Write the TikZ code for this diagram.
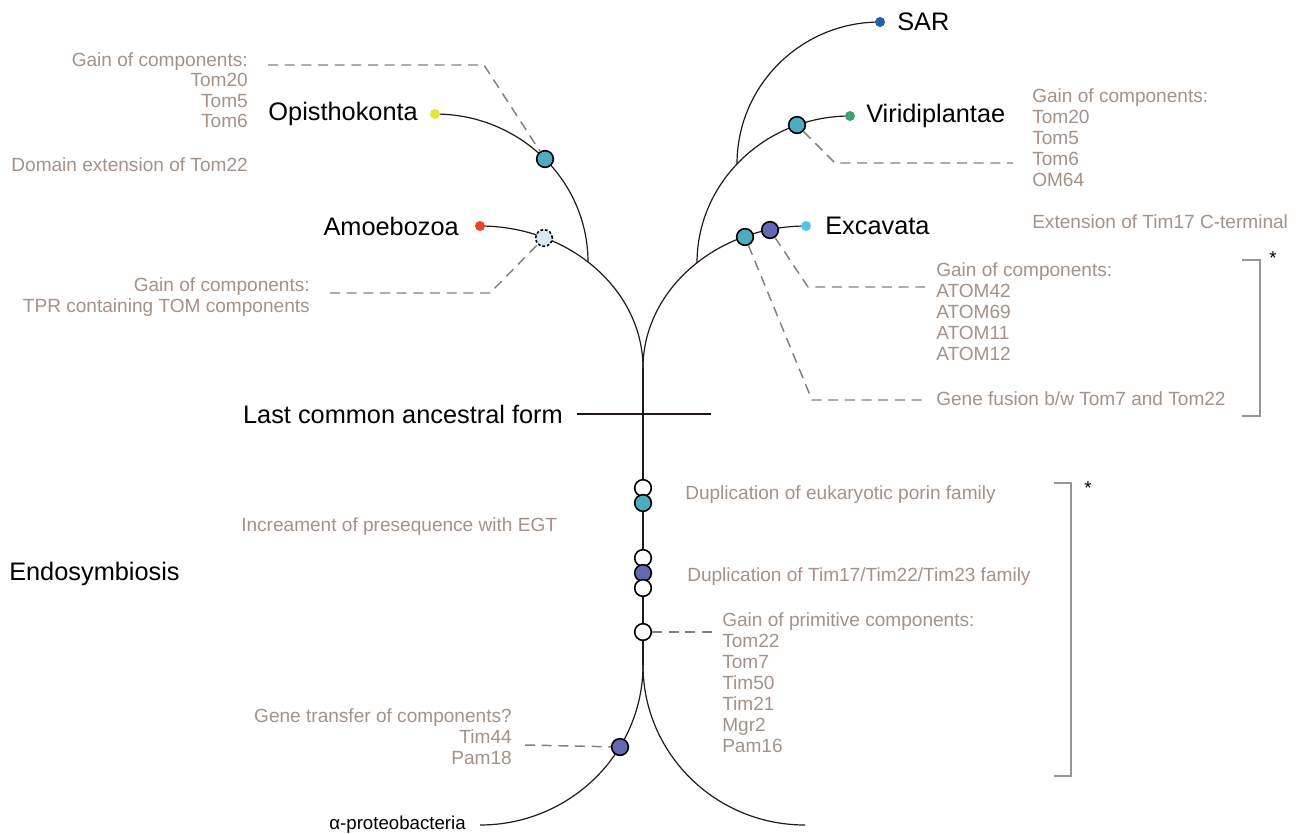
\documentclass[tikz,border=0pt]{standalone}
\usepackage{fontspec}
\setmainfont{Liberation Sans}
\usetikzlibrary{positioning}
\definecolor{notecol}{RGB}{163,146,136}
\definecolor{dashcol}{RGB}{128,128,128}
\definecolor{bracketcol}{RGB}{150,150,150}
\definecolor{linecol}{RGB}{35,25,22}
\definecolor{tealdot}{RGB}{78,172,190}
\definecolor{purpdot}{RGB}{100,104,176}
\definecolor{palecol}{RGB}{214,234,240}
\definecolor{yelldot}{RGB}{228,226,60}
\definecolor{reddot}{RGB}{236,64,42}
\definecolor{bluedot}{RGB}{38,92,172}
\definecolor{greendot}{RGB}{62,160,112}
\definecolor{skydot}{RGB}{84,192,236}

\begin{document}
\begin{tikzpicture}[x=0.75pt,y=0.75pt,yscale=-1,
    branch/.style={draw=linecol,line width=0.9pt},
    trunk/.style={draw=linecol,line width=2.2pt},
    tip/.style={circle,inner sep=0pt,minimum size=7.5pt},
    event/.style={circle,draw=black,line width=1.2pt,inner sep=0pt,minimum size=12.5pt},
    leader/.style={draw=dashcol,line width=1.1pt,dash pattern=on 7.5pt off 5pt},
    bracket/.style={draw=bracketcol,line width=1.1pt},
    note/.style={text=notecol,inner sep=0pt,font=\fontsize{14.3}{15.75}\selectfont},
    taxon/.style={inner sep=0pt,font=\fontsize{19}{22}\selectfont}]
        \useasboundingbox (0,0) rectangle (1300,833);

        % tree points
        \coordinate (split) at (643,368);
        \coordinate (fork) at (643,665);
        \coordinate (bOpis) at (588,262);
        \coordinate (bViri) at (697,263);
        \coordinate (bSar) at (737,164);
        \coordinate (tAmoe) at (480,226);
        \coordinate (tOpis) at (435,114);
        \coordinate (tExca) at (806,226);
        \coordinate (tViri) at (850,116);
        \coordinate (tSar) at (880,22);
        \coordinate (tAlpha) at (480,825);
        \coordinate (tRight) at (805,825);
        \coordinate (lcaL) at (577,414);
        \coordinate (lcaR) at (711,414);

        % branches
        \draw[branch] (split) .. controls (643,290.5) and (570,226) .. (tAmoe);
        \draw[branch] (bOpis) .. controls (588,180.3) and (519.5,114) .. (tOpis);
        \draw[branch] (split) .. controls (643,290.5) and (716,226) .. (tExca);
        \draw[branch] (bViri) .. controls (697,182) and (765.5,116) .. (tViri);
        \draw[branch] (bSar) .. controls (737,85.6) and (801,22) .. (tSar);
        \draw[trunk] (split) -- (fork);
        \draw[branch] (fork) .. controls (643,753) and (570,825) .. (tAlpha);
        \draw[branch] (fork) .. controls (643,753) and (715,825) .. (tRight);
        \draw[linecol,line width=1.5pt] (lcaL) -- (lcaR);

        % tips
        \node[tip,fill=reddot] (amoe) at (tAmoe) {};
        \node[tip,fill=yelldot] (opis) at (tOpis) {};
        \node[tip,fill=skydot] (exca) at (tExca) {};
        \node[tip,fill=greendot] (viri) at (tViri) {};
        \node[tip,fill=bluedot] (sar) at (tSar) {};

        % events
        \node[event,fill=tealdot] (eOpis) at (545,159) {};
        \node[event,fill=palecol,dash pattern=on 2pt off 1.5pt] (eAmoe) at (544,238) {};
        \node[event,fill=tealdot] (eViri) at (797,125) {};
        \node[event,fill=tealdot] (eFuse) at (745,237) {};
        \node[event,fill=purpdot] (eAtom) at (770,230) {};
        \node[event,fill=white] (eW1) at (643,488) {};
        \node[event,fill=tealdot] (ePorin) at (643,503) {};
        \node[event,fill=white] (eW2) at (643,558) {};
        \node[event,fill=purpdot] (eTim) at (643,573) {};
        \node[event,fill=white] (eW3) at (643,588) {};
        \node[event,fill=white] (ePrim) at (643,632) {};
        \node[event,fill=purpdot] (eTrans) at (620,747) {};

        % leaders
        \coordinate (dOpis1) at (268,65);
        \coordinate (dOpis2) at (484,65);
        \coordinate (dAmoe1) at (330,293);
        \coordinate (dAmoe2) at (490,293);
        \coordinate (dViri1) at (835,163);
        \coordinate (dViri2) at (1013,163);
        \coordinate (dAtom1) at (808,287);
        \coordinate (dAtom2) at (925,287);
        \coordinate (dFuse1) at (812,400);
        \coordinate (dFuse2) at (928,400);
        \coordinate (dPrim) at (712,632);
        \coordinate (dTrans) at (525,745);
        \draw[leader] (dOpis1) -- (dOpis2) -- (eOpis);
        \draw[leader] (dAmoe1) -- (dAmoe2) -- (eAmoe);
        \draw[leader] (eViri) -- (dViri1) -- (dViri2);
        \draw[leader] (eAtom) -- (dAtom1) -- (dAtom2);
        \draw[leader] (eFuse) -- (dFuse1) -- (dFuse2);
        \draw[leader] (ePrim) -- (dPrim);
        \draw[leader] (dTrans) -- (eTrans);

        % brackets
        \draw[bracket] (1242,260) -- (1260,260) -- (1260,416) -- (1242,416);
        \draw[bracket] (1054,483) -- (1071,483) -- (1071,776) -- (1054,776);
        \node[inner sep=0pt,font=\fontsize{14}{16}\selectfont] (star1) at (1273,258) {*};
        \node[inner sep=0pt,font=\fontsize{14}{16}\selectfont] (star2) at (1088,488) {*};

        % taxa
        \node[taxon,anchor=east] (opisText) at (418,114) {Opisthokonta};
        \node[taxon,anchor=east] (amoeText) at (459,226) {Amoebozoa};
        \node[taxon,anchor=west] (sarText) at (897,22) {SAR};
        \node[taxon,anchor=west] (viriText) at (866,116) {Viridiplantae};
        \node[taxon,anchor=west] (excaText) at (825,226) {Excavata};
        \node[taxon,anchor=east] (lcaText) at (563,414) {Last common ancestral form};
        \node[taxon,anchor=west] (endoText) at (9,574) {Endosymbiosis};
        \node[inner sep=0pt,anchor=east,font=\fontsize{14}{16}\selectfont] (alphaText) at (466,825) {α-proteobacteria};

        % notes
        \node[note,anchor=north east,align=right,font=\fontsize{14.3}{15.4}\selectfont] (nOpis) at (248,52) {Gain of components:\\Tom20\\Tom5\\Tom6};
        \node[note,anchor=east] (nDomain) at (248,165) {Domain extension of Tom22};
        \node[note,anchor=north east,align=right] (nAmoe) at (310,277) {Gain of components:\\TPR containing TOM components};
        \node[note,anchor=north west,align=left] (nViri) at (1032,88) {Gain of components:\\Tom20\\Tom5\\Tom6\\OM64};
        \node[note,anchor=west] (nTim17) at (1032,222) {Extension of Tim17 C-terminal};
        \node[note,anchor=north west,align=left] (nAtom) at (936,262) {Gain of components:\\ATOM42\\ATOM69\\ATOM11\\ATOM12};
        \node[note,anchor=west] (nFuse) at (936,399) {Gene fusion b/w Tom7 and Tom22};
        \node[note,anchor=west] (nPorin) at (685,495) {Duplication of eukaryotic porin family};
        \node[note,anchor=west] (nEgt) at (241,527) {Increament of presequence with EGT};
        \node[note,anchor=west] (nTim) at (687,577) {Duplication of Tim17/Tim22/Tim23 family};
        \node[note,anchor=north west,align=left] (nPrim) at (722,612) {Gain of primitive components:\\Tom22\\Tom7\\Tim50\\Tim21\\Mgr2\\Pam16};
        \node[note,anchor=north east,align=right] (nTrans) at (512,708) {Gene transfer of components?\\Tim44\\Pam18};
\end{tikzpicture}
\end{document}
